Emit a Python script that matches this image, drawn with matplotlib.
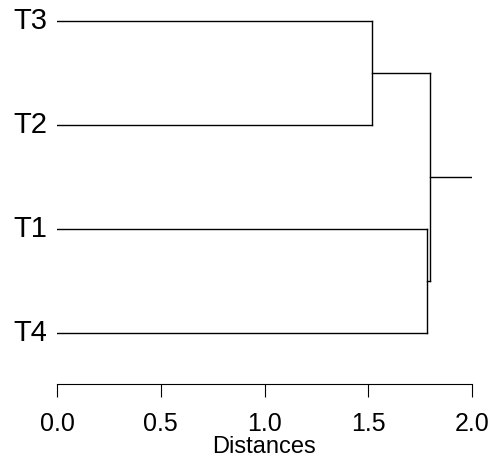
import matplotlib
matplotlib.use("Agg")
import matplotlib.pyplot as plt

plt.rcParams['font.family'] = ['Liberation Sans', 'DejaVu Sans']

# leaves top -> bottom
leaves = ["T3", "T2", "T1", "T4"]
# merges: (left child, right child, height)
merges = [("T3", "T2", 1.52), ("T1", "T4", 1.785), ("m0", "m1", 1.80)]
root_end = 2.0

fig = plt.figure(figsize=(4.91, 4.68), dpi=100)
ax = fig.add_axes([57/491, 84/468, (472-57)/491, 1 - 84/468])

ypos = {name: len(leaves) - i for i, name in enumerate(leaves)}
xpos = {name: 0.0 for name in leaves}

for i, (a, b, h) in enumerate(merges):
    for c in (a, b):
        ax.plot([xpos[c], h], [ypos[c], ypos[c]], color="black", lw=1)
    ax.plot([h, h], [ypos[a], ypos[b]], color="black", lw=1)
    name = "m%d" % i
    xpos[name] = h
    ypos[name] = (ypos[a] + ypos[b]) / 2

root = "m%d" % (len(merges) - 1)
ax.plot([xpos[root], root_end], [ypos[root], ypos[root]], color="black", lw=1)

for name in leaves:
    ax.text(-0.045, ypos[name], name, ha="right", va="center", fontsize=21)

ax.set_xlim(0, 2)
ax.set_ylim(1 - 51/104, 4 + 21/104)
ax.set_xticks([0, 0.5, 1.0, 1.5, 2.0])
ax.set_xticklabels(["0.0", "0.5", "1.0", "1.5", "2.0"], fontsize=18)
ax.tick_params(axis="x", length=9.4, width=0.8, pad=11)
ax.set_yticks([])
for s in ["top", "right", "left"]:
    ax.spines[s].set_visible(False)
ax.spines["bottom"].set_linewidth(0.8)
ax.set_xlabel("Distances", fontsize=17, labelpad=0)

fig.savefig("out.png", dpi=100)
